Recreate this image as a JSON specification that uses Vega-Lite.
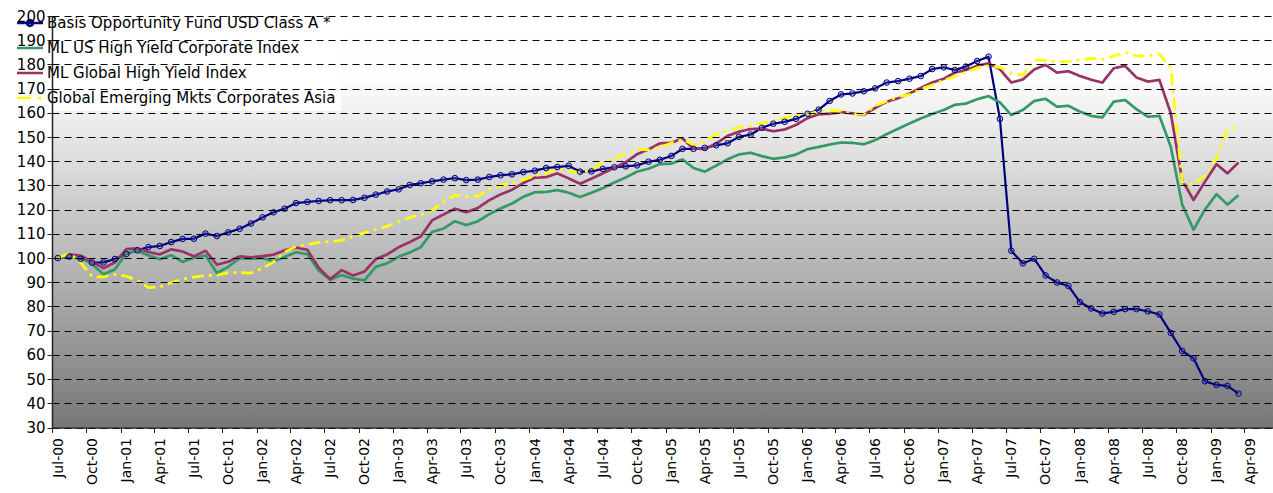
{
 "$schema": "https://vega.github.io/schema/vega-lite/v6.json",
 "width": 1221,
 "height": 411.5,
 "autosize": {"type": "none"},
 "padding": {"left": 52, "top": 16, "right": 0, "bottom": 65.5},
 "background": "#ffffff",
 "view": {"fill": {"gradient": "linear", "x1": 0, "y1": 0, "x2": 0, "y2": 1, "stops": [{"offset": 0, "color": "#ffffff"}, {"offset": 0.15, "color": "#fdfdfd"}, {"offset": 1, "color": "#777777"}]}, "stroke": null},
 "data": {"values": [
  {"m":"2000/07/01","basis":100,"ushy":100,"glhy":100,"gem":100},
  {"m":"2000/08/01","basis":100.6,"ushy":101.0,"glhy":101.5,"gem":102},
  {"m":"2000/09/01","basis":99.7,"ushy":100.3,"glhy":101.0,"gem":98},
  {"m":"2000/10/01","basis":98.1,"ushy":97.5,"glhy":98.5,"gem":92.3},
  {"m":"2000/11/01","basis":98.2,"ushy":93.3,"glhy":95.8,"gem":92.2},
  {"m":"2000/12/01","basis":99.6,"ushy":95.3,"glhy":98.2,"gem":93.3},
  {"m":"2001/01/01","basis":101.7,"ushy":102.1,"glhy":103.7,"gem":92.5},
  {"m":"2001/02/01","basis":103.2,"ushy":103.0,"glhy":104.0,"gem":90.8},
  {"m":"2001/03/01","basis":104.5,"ushy":101.1,"glhy":102.5,"gem":87.8},
  {"m":"2001/04/01","basis":105.0,"ushy":99.5,"glhy":101.5,"gem":88.1},
  {"m":"2001/05/01","basis":106.6,"ushy":101.2,"glhy":103.6,"gem":89.8},
  {"m":"2001/06/01","basis":107.9,"ushy":98.4,"glhy":102.7,"gem":91.3},
  {"m":"2001/07/01","basis":108.0,"ushy":100.1,"glhy":100.7,"gem":92.1},
  {"m":"2001/08/01","basis":110.1,"ushy":101.1,"glhy":103.0,"gem":92.8},
  {"m":"2001/09/01","basis":109.1,"ushy":93.8,"glhy":97.3,"gem":92.9},
  {"m":"2001/10/01","basis":110.6,"ushy":96.4,"glhy":98.5,"gem":94.0},
  {"m":"2001/11/01","basis":112.1,"ushy":99.9,"glhy":100.7,"gem":94.0},
  {"m":"2001/12/01","basis":114.3,"ushy":99.7,"glhy":100.3,"gem":93.8},
  {"m":"2002/01/01","basis":116.8,"ushy":100.0,"glhy":100.8,"gem":95.8},
  {"m":"2002/02/01","basis":118.9,"ushy":98.6,"glhy":101.4,"gem":98.4},
  {"m":"2002/03/01","basis":120.4,"ushy":100.4,"glhy":103.2,"gem":102.5},
  {"m":"2002/04/01","basis":122.7,"ushy":102.4,"glhy":104.3,"gem":104.8},
  {"m":"2002/05/01","basis":123.2,"ushy":101.6,"glhy":103.4,"gem":105.5},
  {"m":"2002/06/01","basis":123.6,"ushy":94.8,"glhy":96.0,"gem":106.5},
  {"m":"2002/07/01","basis":123.9,"ushy":91.0,"glhy":91.3,"gem":106.8},
  {"m":"2002/08/01","basis":123.9,"ushy":93.0,"glhy":95.0,"gem":107.3},
  {"m":"2002/09/01","basis":124.0,"ushy":91.5,"glhy":92.8,"gem":108.9},
  {"m":"2002/10/01","basis":124.9,"ushy":90.8,"glhy":94.4,"gem":110.4},
  {"m":"2002/11/01","basis":126.2,"ushy":96.4,"glhy":99.6,"gem":111.8},
  {"m":"2002/12/01","basis":127.5,"ushy":97.8,"glhy":101.5,"gem":113.1},
  {"m":"2003/01/01","basis":128.4,"ushy":100.6,"glhy":104.5,"gem":115.1},
  {"m":"2003/02/01","basis":130.2,"ushy":102.3,"glhy":106.6,"gem":116.8},
  {"m":"2003/03/01","basis":130.9,"ushy":104.5,"glhy":108.9,"gem":117.8},
  {"m":"2003/04/01","basis":131.7,"ushy":110.8,"glhy":115.6,"gem":119.8},
  {"m":"2003/05/01","basis":132.4,"ushy":112.2,"glhy":118.0,"gem":123.3},
  {"m":"2003/06/01","basis":133.0,"ushy":115.2,"glhy":120.4,"gem":126.0},
  {"m":"2003/07/01","basis":132.2,"ushy":113.6,"glhy":118.9,"gem":125.3},
  {"m":"2003/08/01","basis":132.4,"ushy":115.2,"glhy":120.7,"gem":125.6},
  {"m":"2003/09/01","basis":133.5,"ushy":118.1,"glhy":123.9,"gem":128.5},
  {"m":"2003/10/01","basis":134.2,"ushy":120.5,"glhy":126.3,"gem":130.0},
  {"m":"2003/11/01","basis":134.6,"ushy":122.5,"glhy":128.2,"gem":131.0},
  {"m":"2003/12/01","basis":135.5,"ushy":125.3,"glhy":131.0,"gem":132.4},
  {"m":"2004/01/01","basis":136.1,"ushy":127.2,"glhy":133.2,"gem":134.0},
  {"m":"2004/02/01","basis":137.2,"ushy":127.3,"glhy":133.4,"gem":135.0},
  {"m":"2004/03/01","basis":137.6,"ushy":128.1,"glhy":135.0,"gem":136.8},
  {"m":"2004/04/01","basis":138.1,"ushy":127.0,"glhy":132.9,"gem":136.0},
  {"m":"2004/05/01","basis":135.7,"ushy":125.2,"glhy":130.7,"gem":135.3},
  {"m":"2004/06/01","basis":135.8,"ushy":127.0,"glhy":132.8,"gem":136.3},
  {"m":"2004/07/01","basis":136.8,"ushy":128.9,"glhy":135.0,"gem":139.6},
  {"m":"2004/08/01","basis":137.5,"ushy":131.2,"glhy":137.3,"gem":141.0},
  {"m":"2004/09/01","basis":137.9,"ushy":133.3,"glhy":139.6,"gem":143.0},
  {"m":"2004/10/01","basis":138.3,"ushy":135.7,"glhy":142.9,"gem":145.0},
  {"m":"2004/11/01","basis":139.8,"ushy":136.9,"glhy":144.9,"gem":144.7},
  {"m":"2004/12/01","basis":140.6,"ushy":138.8,"glhy":147.4,"gem":145.8},
  {"m":"2005/01/01","basis":142.2,"ushy":139.0,"glhy":147.6,"gem":147.5},
  {"m":"2005/02/01","basis":145.1,"ushy":140.8,"glhy":149.5,"gem":149.0},
  {"m":"2005/03/01","basis":145.1,"ushy":137.2,"glhy":145.2,"gem":146.8},
  {"m":"2005/04/01","basis":145.5,"ushy":135.7,"glhy":145.1,"gem":148.0},
  {"m":"2005/05/01","basis":146.6,"ushy":138.2,"glhy":147.3,"gem":151.3},
  {"m":"2005/06/01","basis":147.4,"ushy":140.8,"glhy":150.5,"gem":152.5},
  {"m":"2005/07/01","basis":150.1,"ushy":142.8,"glhy":152.2,"gem":154.0},
  {"m":"2005/08/01","basis":151.0,"ushy":143.5,"glhy":153.3,"gem":154.7},
  {"m":"2005/09/01","basis":153.8,"ushy":142.1,"glhy":153.4,"gem":155.8},
  {"m":"2005/10/01","basis":155.5,"ushy":141.0,"glhy":152.4,"gem":156.7},
  {"m":"2005/11/01","basis":156.3,"ushy":141.6,"glhy":153.1,"gem":158.0},
  {"m":"2005/12/01","basis":157.5,"ushy":142.8,"glhy":155.0,"gem":158.8},
  {"m":"2006/01/01","basis":159.6,"ushy":145.0,"glhy":157.8,"gem":159.5},
  {"m":"2006/02/01","basis":161.3,"ushy":145.9,"glhy":159.4,"gem":160.6},
  {"m":"2006/03/01","basis":164.9,"ushy":146.9,"glhy":159.6,"gem":160.9},
  {"m":"2006/04/01","basis":167.6,"ushy":147.7,"glhy":160.3,"gem":160.7},
  {"m":"2006/05/01","basis":168.0,"ushy":147.6,"glhy":159.8,"gem":159.7},
  {"m":"2006/06/01","basis":168.9,"ushy":147.0,"glhy":159.1,"gem":159.3},
  {"m":"2006/07/01","basis":170.1,"ushy":148.7,"glhy":162.0,"gem":162.9},
  {"m":"2006/08/01","basis":172.5,"ushy":151.2,"glhy":164.6,"gem":164.8},
  {"m":"2006/09/01","basis":173.1,"ushy":153.4,"glhy":166.0,"gem":166.7},
  {"m":"2006/10/01","basis":174.1,"ushy":155.6,"glhy":168.0,"gem":167.5},
  {"m":"2006/11/01","basis":175.2,"ushy":157.7,"glhy":170.3,"gem":169.8},
  {"m":"2006/12/01","basis":178.1,"ushy":159.5,"glhy":172.5,"gem":171.5},
  {"m":"2007/01/01","basis":178.8,"ushy":161.2,"glhy":174.1,"gem":173.6},
  {"m":"2007/02/01","basis":177.7,"ushy":163.3,"glhy":176.6,"gem":175.0},
  {"m":"2007/03/01","basis":179.1,"ushy":163.8,"glhy":177.7,"gem":176.8},
  {"m":"2007/04/01","basis":181.4,"ushy":165.6,"glhy":179.4,"gem":178.6},
  {"m":"2007/05/01","basis":183.2,"ushy":166.9,"glhy":180.5,"gem":179.4},
  {"m":"2007/06/01","basis":157.5,"ushy":164.3,"glhy":178.0,"gem":178.8},
  {"m":"2007/07/01","basis":103.0,"ushy":159.1,"glhy":172.5,"gem":176.3},
  {"m":"2007/08/01","basis":97.8,"ushy":161.2,"glhy":173.8,"gem":175.6},
  {"m":"2007/09/01","basis":99.7,"ushy":164.9,"glhy":177.9,"gem":181.8},
  {"m":"2007/10/01","basis":92.8,"ushy":165.8,"glhy":179.8,"gem":181.7},
  {"m":"2007/11/01","basis":89.9,"ushy":162.5,"glhy":176.6,"gem":181.0},
  {"m":"2007/12/01","basis":88.5,"ushy":162.9,"glhy":177.2,"gem":181.3},
  {"m":"2008/01/01","basis":81.8,"ushy":160.5,"glhy":175.2,"gem":182.0},
  {"m":"2008/02/01","basis":79.2,"ushy":158.7,"glhy":173.7,"gem":182.5},
  {"m":"2008/03/01","basis":77.1,"ushy":158.1,"glhy":172.5,"gem":182.0},
  {"m":"2008/04/01","basis":77.8,"ushy":164.6,"glhy":178.4,"gem":183.5},
  {"m":"2008/05/01","basis":78.9,"ushy":165.3,"glhy":179.4,"gem":185.0},
  {"m":"2008/06/01","basis":78.9,"ushy":161.5,"glhy":174.6,"gem":183.5},
  {"m":"2008/07/01","basis":78.0,"ushy":158.4,"glhy":172.9,"gem":183.5},
  {"m":"2008/08/01","basis":76.7,"ushy":158.7,"glhy":173.6,"gem":184.3},
  {"m":"2008/09/01","basis":69.1,"ushy":146.0,"glhy":159.8,"gem":178.5},
  {"m":"2008/10/01","basis":61.6,"ushy":122.1,"glhy":132.1,"gem":131.5},
  {"m":"2008/11/01","basis":58.6,"ushy":111.7,"glhy":124.0,"gem":130.3},
  {"m":"2008/12/01","basis":49.1,"ushy":120.0,"glhy":131.5,"gem":134.0},
  {"m":"2009/01/01","basis":47.6,"ushy":126.4,"glhy":138.8,"gem":141.0},
  {"m":"2009/02/01","basis":47.2,"ushy":122.1,"glhy":135.0,"gem":153.3},
  {"m":"2009/03/01","basis":44.0,"ushy":126.0,"glhy":139.5,"gem":154.0}
 ]},
 "transform": [{"fold": ["basis", "ushy", "glhy", "gem"], "as": ["series", "value"]}],
 "layer": [
  {
   "mark": {"type": "line", "strokeCap": "butt", "strokeJoin": "round"},
   "encoding": {
    "x": {"field": "m", "timeUnit": "yearmonth", "type": "temporal", "bandPosition": 0.5,
      "scale": {"domain": [{"year": 2000, "month": 7, "date": 1}, {"year": 2009, "month": 6, "date": 17}]},
      "axis": {"title": null, "format": "%b-%y", "formatType": "time", "tickCount": {"interval": "month", "step": 3}, "labelAngle": 270, "labelAlign": "right", "labelBaseline": "middle", "labelOffset": 6, "labelPadding": 5, "tickSize": 5, "grid": false, "labelOverlap": false, "labelFlush": false, "labelFont": "DejaVu Sans", "labelFontSize": 14, "labelColor": "#000000", "domainColor": "#222222", "domainWidth": 1.5, "tickColor": "#222222", "zindex": 1}},
    "y": {"field": "value", "type": "quantitative",
      "scale": {"domain": [30, 200], "nice": false, "zero": false},
      "axis": {"title": null, "values": [30, 40, 50, 60, 70, 80, 90, 100, 110, 120, 130, 140, 150, 160, 170, 180, 190, 200], "tickCount": 18, "grid": true, "gridDash": [7, 5], "gridColor": "#000000", "gridWidth": 1, "tickSize": 5, "labelPadding": 2, "labelFont": "DejaVu Sans", "labelFontSize": 15, "labelColor": "#000000", "domainColor": "#222222", "domainWidth": 1.5, "tickColor": "#222222", "labelFlush": false, "labelOverlap": false, "zindex": 1}},
    "color": {"field": "series", "type": "nominal",
      "scale": {"domain": ["basis", "ushy", "glhy", "gem"], "range": ["#000080", "#339966", "#993366", "#ffff00"]},
      "legend": {"title": null, "orient": "none", "legendX": -35, "legendY": -6, "fillColor": "#ffffff", "padding": 5, "rowPadding": 9, "labelOffset": 9, "labelFont": "DejaVu Sans", "labelFontSize": 15, "labelColor": "#000000", "labelLimit": 0, "symbolSize": 169, "symbolStrokeWidth": 2.5,
        "symbolType": {"expr": "datum.value == 'basis' ? 'M-2,0H2M0.45,0A0.45,0.45,0,1,1,-0.45,0A0.45,0.45,0,1,1,0.45,0' : 'M-2,0H2'"},
        "symbolDash": {"expr": "datum.value == 'gem' ? [14,7,3,5] : [1,0]"},
        "labelExpr": "datum.value == 'basis' ? 'Basis Opportunity Fund USD Class A *' : datum.value == 'ushy' ? 'ML US High Yield Corporate Index' : datum.value == 'glhy' ? 'ML Global High Yield Index' : 'Global Emerging Mkts Corporates Asia'",
        "zindex": 0}},
    "strokeDash": {"condition": {"test": "datum.series == 'gem'", "value": [12, 5, 3, 5]}, "value": [1, 0]},
    "strokeWidth": {"condition": {"test": "datum.series == 'basis'", "value": 2.2}, "value": 2.7}
   }
  },
  {
   "transform": [{"filter": "datum.series == 'basis'"}],
   "mark": {"type": "point", "shape": "circle", "size": 32, "filled": true, "fill": "#5a5ab4", "fillOpacity": 0.25, "stroke": "#000080", "strokeOpacity": 1, "strokeWidth": 1, "opacity": 1},
   "encoding": {
    "x": {"field": "m", "timeUnit": "yearmonth", "type": "temporal", "bandPosition": 0.5},
    "y": {"field": "value", "type": "quantitative"}
   }
  }
 ]
}
